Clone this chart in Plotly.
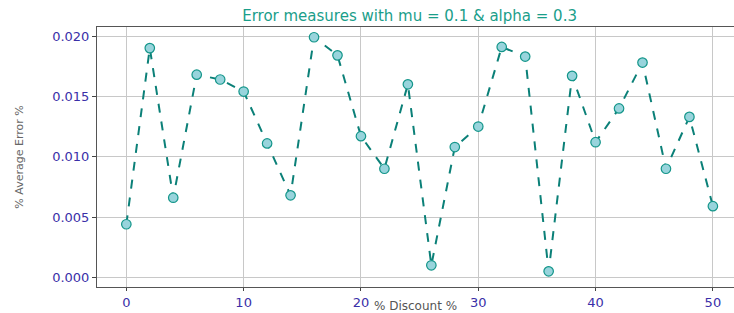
import plotly.graph_objects as go

discount = [0, 2, 4, 6, 8, 10, 12, 14, 16, 18, 20, 22, 24, 26, 28, 30, 32, 34, 36, 38, 40, 42, 44, 46, 48, 50]
avg_error = [0.0044, 0.0190, 0.0066, 0.0168, 0.0164, 0.0154, 0.0111, 0.0068, 0.0199, 0.0184,
             0.0117, 0.0090, 0.0160, 0.0010, 0.0108, 0.0125, 0.0191, 0.0183, 0.0005, 0.0167,
             0.0112, 0.0140, 0.0178, 0.0090, 0.0133, 0.0059]
x_ticks = [0, 10, 20, 30, 40, 50]
y_ticks = [0.000, 0.005, 0.010, 0.015, 0.020]
y_tick_text = ["0.000", "0.005", "0.010", "0.015", "0.020"]

fig = go.Figure()
fig.add_trace(go.Scatter(
    x=discount, y=avg_error, mode="lines+markers",
    line=dict(color="#0b8078", width=2, dash="dash"),
    marker=dict(size=9.5, color="#98d4dc", line=dict(color="#14968a", width=1.2)),
    showlegend=False,
))

W, H = 734, 313
fig.update_layout(
    width=W, height=H,
    margin=dict(l=97, r=0, t=27, b=26),
    paper_bgcolor="white", plot_bgcolor="white",
    font=dict(family="DejaVu Sans", size=12),
    title=dict(text="Error measures with mu = 0.1 & alpha = 0.3",
               font=dict(color="#1a9e8a", size=15, family="DejaVu Sans"),
               x=0.558, xanchor="center", y=0.950, yanchor="middle"),
)
fig.update_xaxes(
    range=[-2.5, 51.8], tickvals=x_ticks, ticks="outside", ticklen=3, automargin=False,
    tickfont=dict(color="#3a2fa8", size=13), showgrid=True, gridcolor="#c8c8c8",
    showline=True, linecolor="#555", mirror=True, zeroline=False,
    title=dict(text="% Discount %", font=dict(color="#555", size=12), standoff=0),
)
fig.update_yaxes(
    range=[-0.0008, 0.02075], tickvals=y_ticks, ticktext=y_tick_text, ticks="outside", ticklen=4,
    automargin=False,
    tickfont=dict(color="#3a2fa8", size=13), showgrid=True, gridcolor="#c8c8c8",
    showline=True, linecolor="#555", mirror=True, zeroline=False,
    title=dict(text="% Average Error %", font=dict(color="#666", size=11), standoff=26),
)
fig.write_html("out.html", config={"displayModeBar": False},
               post_script="document.body.style.margin='0';document.body.style.padding='0';")
